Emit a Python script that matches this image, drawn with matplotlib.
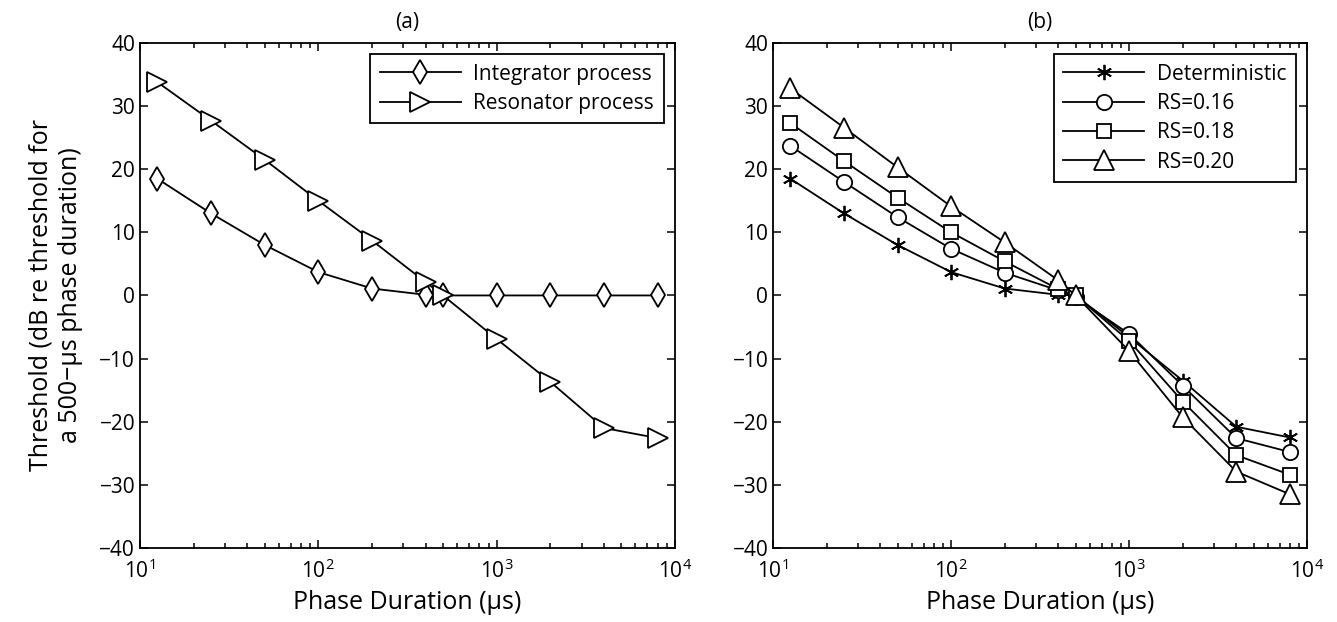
import matplotlib
matplotlib.use('Agg')
from matplotlib import pyplot as plt

plt.rcParams['font.family'] = ['Open Sans', 'DejaVu Sans']
plt.rcParams['mathtext.fontset'] = 'custom'
plt.rcParams['mathtext.rm'] = 'Open Sans'

durations = [12.5, 25, 50, 100, 200, 400, 500, 1000, 2000, 4000, 8000]

# panel (a)
integrator = [18.5, 13.0, 8.0, 3.7, 1.1, 0.1, 0.0, 0.0, 0.0, 0.0, 0.0]
resonator = [33.8, 27.7, 21.5, 15.0, 8.7, 2.1, 0.0, -6.9, -13.7, -21.0, -22.6]

# panel (b)
deterministic = [18.5, 13.0, 8.0, 3.7, 1.1, 0.1, 0.0, -6.6, -13.5, -20.8, -22.5]
rs016 = [23.7, 18.0, 12.4, 7.4, 3.6, 0.8, -0.3, -6.1, -14.3, -22.6, -24.8]
rs018 = [27.3, 21.3, 15.5, 10.0, 5.4, 1.0, 0.0, -7.2, -16.8, -25.3, -28.4]
rs020 = [32.8, 26.6, 20.3, 14.1, 8.4, 2.4, 0.0, -8.8, -19.3, -27.9, -31.5]

fig = plt.figure(figsize=(13.37, 6.22), dpi=100)
ax1 = fig.add_axes([0.1047, 0.119, 0.4002, 0.812])
ax2 = fig.add_axes([0.5782, 0.119, 0.3995, 0.812])

style = dict(color='black', linewidth=1.3, markerfacecolor='white',
             markeredgecolor='black', markeredgewidth=1.3)

ax1.plot(durations, integrator, marker='d', markersize=12, label='Integrator process', **style)
ax1.plot(durations, resonator, marker='>', markersize=15, label='Resonator process', **style)

ax2.plot(durations, deterministic, marker=(6, 2, 0), markersize=11, label='Deterministic', **style)
ax2.plot(durations, rs016, marker='o', markersize=11, label='RS=0.16', **style)
ax2.plot(durations, rs018, marker='s', markersize=9.5, label='RS=0.18', **style)
ax2.plot(durations, rs020, marker='^', markersize=14, label='RS=0.20', **style)

for ax, title in [(ax1, '(a)'), (ax2, '(b)')]:
    ax.set_xscale('log')
    ax.set_xlim(10, 1e4)
    ax.set_ylim(-40, 40)
    ax.set_yticks(range(-40, 41, 10))
    ax.set_title(title, fontsize=15, pad=11)
    ax.set_xlabel('Phase Duration (µs)', fontsize=18, labelpad=5)
    ax.tick_params(axis='both', which='both', direction='in', top=True, right=True,
                   labelsize=15)
    ax.tick_params(axis='both', which='major', length=6, width=1.1)
    ax.tick_params(axis='x', which='minor', length=3.5, width=1.1)
    ax.tick_params(axis='x', which='major', pad=8)
    for s in ax.spines.values():
        s.set_linewidth(1.3)
    leg = ax.legend(loc='upper right', fontsize=15, handlelength=3.9, fancybox=False,
                    edgecolor='black', framealpha=1, borderaxespad=0.55,
                    labelspacing=0.4, handletextpad=0.6, borderpad=0.45)
    leg.get_frame().set_linewidth(1.3)

ax1.set_ylabel('Threshold (dB re threshold for\na 500\u2212\u00b5s phase duration)',
               fontsize=18, labelpad=12)

fig.savefig('out.png', dpi=100)
